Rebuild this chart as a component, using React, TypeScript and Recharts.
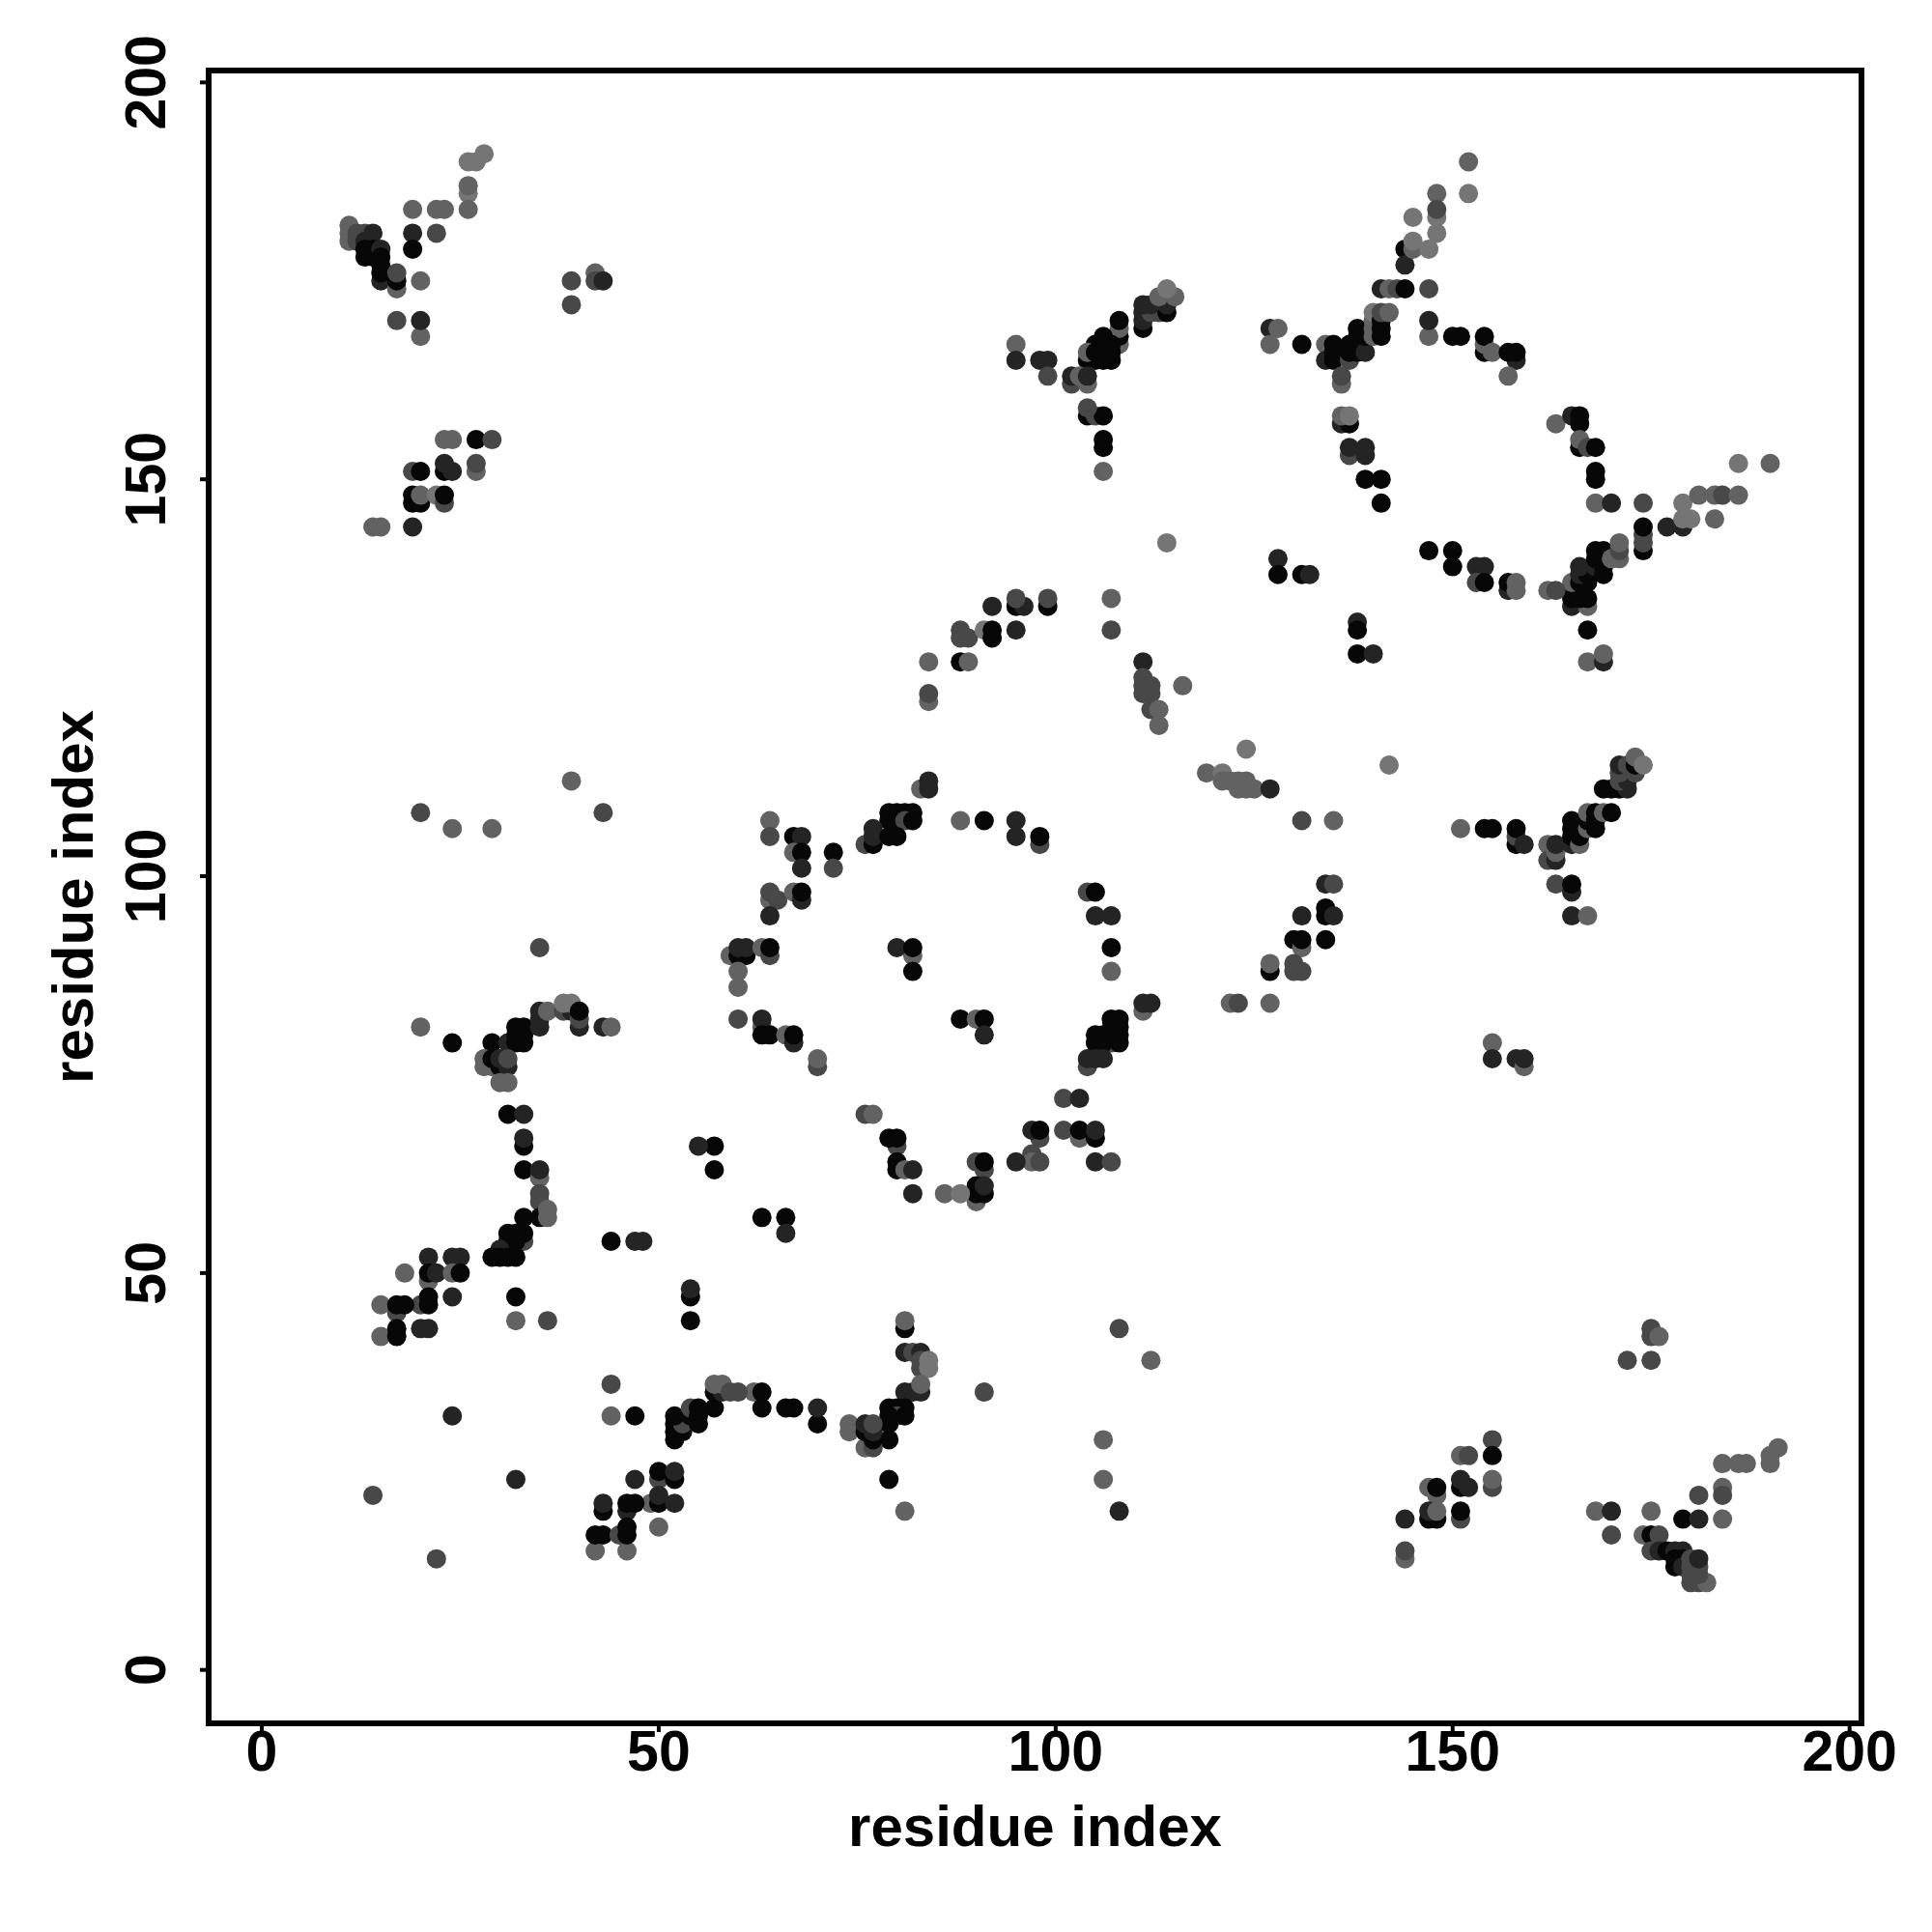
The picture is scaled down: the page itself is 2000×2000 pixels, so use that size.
import { Scatter, ScatterChart, XAxis, YAxis } from 'recharts';

// each contact is [residue x, residue y, confidence level], level 0 = strongest
type Contact = [number, number, number];

const topLeftArm: Contact[] = [
  [28, 191, 4], [26, 190, 4], [27, 190, 4], [26, 186, 4], [26, 187, 3], [26, 184, 3],
  [19, 184, 3], [22, 184, 3], [23, 184, 3], [19, 181, 1], [22, 181, 2], [19, 179, 0],
  [11, 182, 3], [11, 181, 3], [11, 180, 3], [12, 181, 2], [12, 180, 2], [13, 181, 2],
  [14, 181, 1], [13, 180, 1], [13, 179, 0], [13, 178, 0], [14, 179, 0], [14, 178, 0],
  [15, 179, 1], [15, 178, 0], [15, 177, 0], [15, 175, 1], [15, 176, 0], [17, 174, 3],
  [17, 175, 0], [17, 176, 2], [20, 175, 3], [17, 170, 2], [20, 168, 3], [20, 170, 1],
  [39, 175, 2], [39, 172, 2], [42, 176, 3], [42, 175, 2], [43, 175, 1],
];

const upperLeftBlock: Contact[] = [
  [23, 155, 3], [24, 155, 3], [27, 155, 0], [29, 155, 2], [27, 151, 3], [27, 152, 2],
  [23, 151, 0], [24, 151, 1], [23, 152, 1], [19, 151, 2], [20, 151, 0], [19, 148, 0],
  [19, 147, 0], [20, 147, 0], [20, 148, 3], [22, 148, 4], [23, 147, 2], [23, 148, 0],
  [14, 144, 3], [15, 144, 3], [19, 144, 1], [20, 108, 2], [24, 106, 3], [29, 106, 3],
  [39, 112, 3], [43, 108, 2], [35, 91, 2],
];

const topCentreArm: Contact[] = [
  [111, 169, 0], [111, 170, 1], [111, 171, 1], [112, 171, 2], [113, 171, 2], [114, 171, 0],
  [111, 172, 1], [112, 172, 1], [114, 172, 1], [113, 173, 3], [115, 173, 3], [114, 174, 4],
  [108, 167, 3], [108, 168, 0], [108, 169, 3], [108, 170, 0], [106, 168, 0], [105, 167, 0],
  [106, 167, 0], [107, 167, 0], [104, 165, 0], [105, 165, 0], [106, 165, 0], [107, 165, 0],
  [104, 166, 3], [105, 166, 0], [106, 166, 0], [107, 166, 0], [95, 167, 3], [95, 165, 1],
  [98, 165, 1], [99, 165, 1], [99, 163, 2], [102, 162, 2], [102, 163, 1], [104, 162, 3],
  [103, 163, 3], [104, 163, 1], [104, 158, 0], [105, 158, 2], [106, 158, 0], [104, 159, 2],
  [106, 155, 0], [106, 154, 0], [106, 151, 3], [114, 142, 4],
];

const topRightRing: Contact[] = [
  [152, 190, 3], [152, 186, 4], [148, 186, 3], [148, 183, 4], [148, 184, 2], [148, 181, 4],
  [145, 183, 4], [144, 179, 0], [144, 177, 1], [145, 179, 3], [145, 180, 4], [147, 179, 4],
  [141, 174, 1], [142, 174, 3], [143, 174, 2], [144, 174, 0], [147, 174, 2], [147, 168, 3],
  [147, 170, 1], [150, 168, 0], [151, 168, 0], [154, 166, 0], [154, 167, 3], [154, 168, 0],
  [155, 166, 3], [158, 165, 1], [157, 166, 0], [158, 166, 0], [157, 163, 3],
  [127, 169, 1], [128, 169, 3], [127, 167, 3], [131, 167, 0], [134, 167, 3], [134, 165, 1],
  [135, 165, 0], [135, 166, 0], [135, 167, 0], [136, 166, 0], [137, 165, 2], [137, 166, 0],
  [137, 167, 0], [136, 162, 3], [136, 163, 2], [138, 166, 0], [138, 167, 0], [138, 168, 0],
  [138, 169, 0], [139, 166, 1], [139, 168, 0], [140, 168, 3], [140, 169, 3], [140, 170, 3],
  [140, 171, 4], [141, 168, 0], [141, 169, 0], [141, 170, 0], [141, 171, 2], [142, 171, 3],
  [136, 157, 1], [137, 157, 0], [136, 158, 3], [137, 158, 4], [137, 153, 2], [137, 154, 1],
  [139, 153, 1], [139, 154, 1], [139, 150, 0], [141, 150, 0], [141, 147, 0],
];

const rightRingSide: Contact[] = [
  [163, 157, 3], [165, 158, 1], [166, 158, 0], [166, 157, 0], [166, 154, 0], [166, 155, 3],
  [167, 154, 2], [168, 154, 0], [168, 151, 0], [168, 150, 0], [168, 147, 3], [170, 147, 1],
  [174, 147, 2], [174, 141, 0], [174, 142, 2], [174, 143, 2], [174, 144, 0], [177, 144, 1],
  [179, 144, 1], [179, 145, 4], [180, 145, 4], [183, 145, 3], [179, 147, 4], [181, 148, 3],
  [183, 148, 3], [184, 148, 2], [186, 148, 3], [186, 152, 4], [190, 152, 3],
  [165, 134, 1], [167, 134, 3], [165, 135, 0], [166, 135, 0], [167, 135, 0], [165, 136, 0],
  [166, 136, 0], [165, 137, 3], [166, 137, 0], [167, 137, 0], [166, 138, 1], [167, 138, 0],
  [166, 139, 1], [168, 139, 1], [169, 138, 0], [169, 139, 0], [168, 140, 0], [169, 140, 0],
  [168, 141, 0], [169, 141, 0], [170, 140, 3], [171, 140, 3], [171, 141, 2], [171, 142, 3],
  [167, 131, 0], [167, 127, 3], [169, 127, 1], [169, 128, 3],
];

const rightRingBottom: Contact[] = [
  [147, 141, 0], [150, 141, 0], [150, 139, 0], [153, 139, 1], [154, 139, 1], [153, 137, 2],
  [154, 137, 0], [157, 136, 1], [157, 137, 0], [158, 136, 3], [158, 137, 3], [162, 136, 3],
  [163, 136, 2], [128, 140, 1], [128, 138, 0], [131, 138, 0], [132, 138, 1], [138, 132, 1],
  [138, 131, 0], [138, 128, 0], [140, 128, 1],
];

const middleArc: Contact[] = [
  [99, 134, 0], [99, 135, 2], [95, 134, 0], [96, 134, 1], [95, 135, 2], [92, 134, 1],
  [107, 135, 3], [107, 131, 2], [88, 131, 2], [88, 130, 2], [89, 130, 2], [91, 131, 4],
  [92, 130, 0], [92, 131, 0], [95, 131, 1], [84, 127, 3], [88, 127, 0], [89, 127, 3],
  [84, 122, 3], [84, 123, 2], [111, 127, 1], [111, 123, 2], [111, 124, 2], [111, 125, 2],
  [112, 123, 2], [112, 124, 2], [112, 121, 2], [113, 121, 3], [113, 119, 3], [116, 124, 3],
];

const centreSteps: Contact[] = [
  [124, 116, 4], [119, 113, 3], [121, 113, 4], [121, 112, 3], [122, 112, 3], [123, 112, 3],
  [124, 112, 3], [123, 111, 3], [124, 111, 3], [125, 111, 3], [127, 111, 1], [142, 114, 4],
  [131, 107, 2], [135, 107, 3], [134, 99, 1], [135, 99, 2], [134, 96, 0], [134, 95, 0],
  [135, 95, 1], [131, 95, 1], [130, 92, 0], [131, 91, 3], [131, 92, 0], [134, 92, 0],
  [127, 88, 0], [127, 89, 3], [130, 89, 2], [130, 88, 2], [131, 88, 2], [122, 84, 3],
  [123, 84, 2], [127, 84, 3], [155, 79, 3], [155, 77, 1], [158, 77, 1], [159, 76, 3],
  [159, 77, 1],
];

const rightMidArm: Contact[] = [
  [151, 106, 3], [154, 106, 0], [155, 106, 0], [158, 104, 0], [158, 105, 2], [158, 106, 0],
  [159, 104, 1], [162, 104, 3], [162, 102, 2], [163, 102, 1], [163, 103, 3], [163, 104, 1],
  [163, 99, 2], [165, 98, 1], [165, 99, 0], [165, 95, 1], [167, 95, 3], [165, 104, 1],
  [165, 105, 0], [165, 106, 0], [165, 107, 0], [166, 104, 3], [166, 105, 0], [166, 106, 0],
  [167, 106, 3], [167, 107, 0], [167, 108, 3], [168, 106, 0], [168, 107, 0], [168, 108, 0],
  [169, 108, 3], [170, 108, 0], [169, 111, 0], [170, 111, 0], [171, 111, 0], [172, 111, 1],
  [171, 112, 2], [172, 112, 1], [171, 113, 2], [171, 114, 1], [172, 114, 2], [173, 113, 2],
  [173, 114, 0], [173, 115, 3], [174, 114, 4],
];

const centreRingTop: Contact[] = [
  [83, 111, 3], [84, 112, 1], [84, 111, 1], [79, 108, 0], [80, 108, 0], [81, 108, 0],
  [82, 108, 0], [79, 107, 0], [80, 107, 0], [81, 107, 2], [82, 107, 0], [76, 104, 2],
  [77, 104, 0], [77, 105, 1], [77, 106, 1], [79, 105, 0], [80, 105, 0], [88, 107, 3],
  [91, 107, 0], [95, 107, 1], [95, 105, 1], [98, 104, 2], [98, 105, 0], [64, 107, 3],
  [64, 105, 2], [67, 105, 0], [68, 105, 1], [67, 103, 3], [68, 103, 0], [68, 101, 1],
  [72, 103, 0], [72, 101, 2], [64, 97, 3], [64, 98, 2], [65, 97, 2], [67, 98, 3],
  [68, 97, 1], [68, 98, 0], [64, 95, 1], [104, 98, 2], [105, 98, 0], [105, 95, 1],
  [107, 95, 1], [107, 91, 0], [107, 88, 3],
];

const centreRingLeft: Contact[] = [
  [59, 90, 3], [60, 90, 0], [61, 90, 0], [60, 91, 1], [61, 91, 1], [63, 91, 3],
  [64, 90, 2], [64, 91, 0], [60, 88, 3], [60, 86, 3], [60, 82, 2], [63, 81, 3],
  [63, 82, 1], [63, 80, 0], [64, 80, 0], [66, 80, 3], [67, 79, 1], [67, 80, 0],
  [70, 76, 2], [70, 77, 3], [82, 90, 3], [80, 91, 1], [82, 91, 0], [82, 88, 0],
  [88, 82, 0], [90, 82, 3], [91, 82, 0], [91, 80, 1],
];

const centreRingRight: Contact[] = [
  [111, 83, 3], [111, 84, 1], [112, 84, 1], [107, 81, 2], [107, 79, 2], [107, 82, 0],
  [108, 82, 0], [108, 81, 0], [108, 80, 0], [108, 79, 0], [105, 80, 0], [105, 79, 0],
  [106, 80, 0], [106, 79, 0], [104, 76, 2], [104, 77, 1], [105, 77, 1], [106, 77, 1],
  [101, 72, 2], [103, 72, 1], [98, 67, 2], [97, 68, 1], [98, 68, 0], [101, 68, 2],
  [103, 67, 3], [103, 68, 0], [105, 67, 0], [105, 68, 1], [97, 65, 2], [97, 64, 3],
  [95, 64, 1], [98, 64, 2], [105, 64, 1], [107, 64, 2],
];

const centreRingBottom: Contact[] = [
  [90, 64, 2], [91, 63, 2], [91, 64, 0], [90, 59, 3], [90, 60, 0], [90, 61, 0],
  [91, 60, 0], [91, 61, 1], [86, 60, 3], [88, 60, 4], [82, 60, 1], [76, 70, 2],
  [77, 70, 3], [80, 66, 2], [79, 67, 0], [80, 67, 0], [80, 64, 0], [80, 63, 0],
  [81, 63, 3], [82, 63, 1], [57, 66, 0], [55, 66, 1], [57, 63, 0], [63, 57, 0],
  [66, 57, 0], [66, 55, 1],
];

const leftHook: Contact[] = [
  [20, 81, 3], [24, 79, 0], [29, 79, 0], [31, 79, 1], [32, 79, 0], [33, 79, 0],
  [32, 80, 0], [33, 80, 0], [32, 81, 0], [33, 81, 0], [35, 81, 1], [35, 82, 1],
  [35, 83, 1], [36, 83, 3], [38, 83, 2], [39, 83, 1], [38, 84, 4], [39, 84, 4],
  [40, 81, 1], [40, 82, 2], [40, 83, 0], [43, 81, 1], [44, 81, 3], [28, 76, 3],
  [28, 77, 3], [29, 76, 3], [29, 77, 0], [30, 76, 0], [30, 77, 1], [31, 76, 1],
  [31, 77, 2], [30, 74, 3], [31, 74, 3], [31, 70, 0], [33, 70, 1], [33, 66, 0],
  [33, 67, 1], [33, 63, 0], [35, 62, 3], [35, 63, 1], [35, 60, 2], [35, 59, 2],
  [35, 57, 0], [36, 57, 3], [36, 58, 3], [33, 57, 0], [33, 54, 2], [31, 55, 0],
  [32, 55, 0], [33, 55, 0], [31, 54, 0], [32, 54, 0], [30, 53, 1], [29, 52, 0],
  [30, 52, 0], [31, 52, 0], [32, 52, 0],
];

const lowerLeftBlock: Contact[] = [
  [21, 52, 1], [24, 52, 1], [25, 52, 1], [18, 50, 3], [21, 49, 3], [21, 50, 0],
  [22, 50, 1], [24, 50, 3], [25, 50, 0], [24, 47, 1], [20, 46, 2], [21, 46, 0],
  [21, 47, 0], [15, 46, 3], [17, 45, 2], [17, 46, 0], [18, 46, 0], [15, 42, 3],
  [17, 42, 0], [17, 43, 0], [20, 43, 1], [21, 43, 1], [32, 47, 0], [32, 44, 3],
  [36, 44, 2], [44, 54, 0], [47, 54, 1], [48, 54, 1], [54, 47, 0], [54, 48, 1],
  [54, 44, 0],
];

const bottomChain: Contact[] = [
  [81, 43, 0], [81, 44, 3], [81, 40, 1], [82, 40, 2], [83, 40, 1], [83, 38, 2],
  [83, 39, 2], [84, 38, 4], [84, 39, 4], [91, 35, 2], [81, 35, 1], [82, 35, 1],
  [83, 35, 1], [83, 36, 3], [79, 33, 0], [80, 33, 0], [81, 33, 0], [80, 32, 2],
  [81, 32, 0], [79, 32, 0], [79, 31, 0], [79, 29, 0], [74, 31, 3], [74, 30, 3],
  [76, 28, 3], [77, 28, 2], [77, 29, 0], [76, 30, 0], [77, 30, 1], [76, 31, 1],
  [77, 31, 2], [79, 24, 0], [81, 20, 3], [70, 31, 0], [70, 33, 1], [66, 33, 0],
  [67, 33, 0], [62, 35, 3], [63, 33, 0], [63, 35, 0], [57, 33, 0], [57, 35, 0],
  [58, 35, 1], [57, 36, 3], [58, 36, 3], [59, 35, 2], [60, 35, 2],
];

const bottomLeftChain: Contact[] = [
  [52, 29, 0], [52, 30, 0], [53, 30, 0], [52, 31, 0], [53, 31, 2], [52, 32, 0],
  [54, 32, 0], [54, 33, 2], [55, 31, 0], [55, 32, 0], [55, 33, 0], [44, 36, 2],
  [44, 32, 3], [47, 32, 0], [24, 32, 1], [47, 24, 1], [50, 24, 2], [50, 25, 0],
  [52, 24, 0], [52, 25, 1], [49, 21, 3], [50, 21, 0], [50, 22, 1], [52, 21, 1],
  [46, 20, 1], [46, 21, 0], [47, 21, 0], [43, 20, 0], [43, 21, 1], [42, 15, 3],
  [46, 15, 3], [42, 17, 0], [43, 17, 0], [45, 17, 2], [46, 17, 0], [46, 18, 0],
  [50, 18, 3], [14, 22, 2], [22, 14, 2], [32, 24, 1], [106, 29, 3], [106, 24, 3],
  [108, 20, 1], [108, 43, 2], [112, 39, 3],
];

const bottomRightArm: Contact[] = [
  [175, 43, 2], [175, 42, 2], [176, 42, 3], [172, 39, 2], [175, 39, 2], [155, 29, 2],
  [155, 27, 0], [151, 27, 3], [152, 27, 2], [155, 23, 2], [155, 24, 3], [151, 23, 0],
  [151, 24, 1], [152, 23, 1], [147, 23, 3], [148, 22, 3], [148, 23, 0], [151, 19, 2],
  [147, 19, 0], [148, 19, 0], [147, 20, 1], [148, 20, 3], [151, 20, 0], [144, 19, 1],
  [144, 14, 3], [144, 15, 2], [191, 28, 3], [190, 26, 3], [190, 27, 3], [184, 26, 3],
  [186, 26, 3], [187, 26, 3], [184, 23, 3], [184, 22, 2], [181, 22, 2], [179, 19, 0],
  [181, 19, 1], [184, 19, 3], [168, 20, 3], [170, 20, 1], [170, 17, 2], [175, 20, 3],
  [174, 17, 3], [175, 17, 0], [176, 17, 2], [175, 15, 2], [176, 15, 1], [177, 15, 0],
  [178, 15, 1], [179, 15, 1], [178, 14, 0], [179, 14, 0], [178, 13, 0], [179, 13, 1],
  [180, 11, 2], [181, 11, 2], [182, 11, 3], [180, 12, 2], [181, 12, 2], [180, 13, 2],
  [181, 13, 2], [180, 14, 2], [181, 14, 1],
];

const xTicks = [0, 50, 100, 150, 200];
const yTicks = [0, 50, 100, 150, 200];
const axisTitle = 'residue index';

const greys = ['#070707', '#242424', '#484848', '#626262', '#757575'];
const xDomain = [-6.69, 201.5];
const yDomain = [-6.73, 201.5];
const fontFamily = '"Liberation Sans", Arial, sans-serif';

const contacts = [
  ...topLeftArm,
  ...upperLeftBlock,
  ...topCentreArm,
  ...topRightRing,
  ...rightRingSide,
  ...rightRingBottom,
  ...middleArc,
  ...centreSteps,
  ...rightMidArm,
  ...centreRingTop,
  ...centreRingLeft,
  ...centreRingRight,
  ...centreRingBottom,
  ...leftHook,
  ...lowerLeftBlock,
  ...bottomChain,
  ...bottomLeftChain,
  ...bottomRightArm,
].map(([x, y, level]) => ({ x, y, level }));

function ContactDot(props: any) {
  return <circle cx={props.cx} cy={props.cy} r={10} fill={greys[props.payload.level]} />;
}

function XTick({ x, y, payload }: any) {
  return (
    <text x={x} y={y + 38} textAnchor="middle" fontFamily={fontFamily} fontWeight="bold" fontSize={59} fill="#000">
      {payload.value}
    </text>
  );
}

function YTick({ x, y, payload }: any) {
  return (
    <text
      transform={`translate(${x - 34} ${y}) rotate(-90)`}
      textAnchor="middle"
      fontFamily={fontFamily}
      fontWeight="bold"
      fontSize={59}
      fill="#000"
    >
      {payload.value}
    </text>
  );
}

export default function App() {
  return (
    <div style={{ position: 'absolute', left: 0, top: 0, width: 2000, height: 2000, background: '#fff' }}>
      <ScatterChart width={2000} height={2000} margin={{ top: 73, right: 73, bottom: 0, left: 0 }}>
        <XAxis
          type="number"
          dataKey="x"
          domain={xDomain}
          ticks={xTicks}
          allowDataOverflow
          axisLine={false}
          tickLine={{ stroke: '#000', strokeWidth: 4 }}
          tickSize={9}
          tick={<XTick />}
          height={216}
          label={{
            value: axisTitle,
            position: 'insideBottom',
            offset: 89,
            fontFamily,
            fontWeight: 'bold',
            fontSize: 60,
            fill: '#000',
          }}
        />
        <YAxis
          type="number"
          dataKey="y"
          domain={yDomain}
          ticks={yTicks}
          allowDataOverflow
          axisLine={false}
          tickLine={{ stroke: '#000', strokeWidth: 4 }}
          tickSize={9}
          tick={<YTick />}
          width={216}
          label={{
            value: axisTitle,
            angle: -90,
            position: 'insideLeft',
            offset: 75,
            style: { textAnchor: 'middle' },
            fontFamily,
            fontWeight: 'bold',
            fontSize: 60,
            fill: '#000',
          }}
        />
        <Scatter data={contacts} isAnimationActive={false} shape={ContactDot} />
      </ScatterChart>
      {/* plot frame */}
      <div
        style={{
          position: 'absolute',
          left: 213,
          top: 70,
          width: 1717,
          height: 1717,
          boxSizing: 'border-box',
          border: '6px solid #000',
          pointerEvents: 'none',
        }}
      />
    </div>
  );
}
